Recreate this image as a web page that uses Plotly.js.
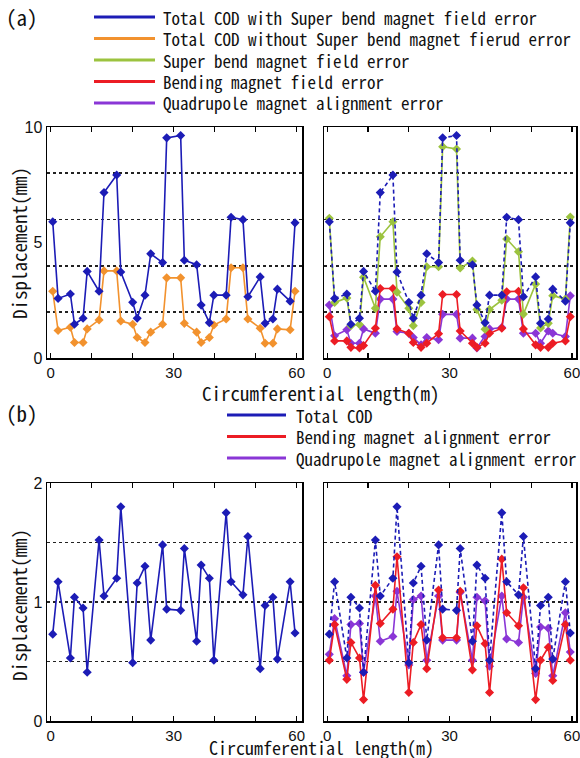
<!DOCTYPE html>
<html>
<head>
<meta charset="utf-8">
<script src="https://cdn.plot.ly/plotly-3.0.1.min.js"></script>
<style>html,body{margin:0;padding:0;background:#fff;}#chart{width:580px;height:758px;}</style>
</head>
<body>
<div id="chart"></div>
<script>
// ---- data (circumferential position in m, displacement in mm) ----
const xPos = [0.5, 1.8, 4.8, 5.8, 7.9, 8.9, 11.8, 13.0, 16.1, 17.1, 20.0, 21.1, 23.0, 24.4, 27.3, 28.3,
              31.7, 32.6, 35.6, 36.7, 38.7, 39.8, 42.8, 44.0, 46.9, 48.1, 51.1, 52.3, 54.2, 55.3, 58.4, 59.6];

// (a) field errors
const totalCodWithSB = [5.90, 2.58, 2.77, 1.46, 1.72, 3.75, 2.89, 7.16, 7.92, 3.72, 2.41, 1.72, 2.72, 4.51, 4.13, 9.53,
                        9.63, 4.23, 4.04, 2.29, 1.53, 2.72, 2.72, 6.09, 5.99, 2.65, 3.51, 1.50, 1.69, 2.98, 2.46, 5.85];
const totalCodWithoutSB = [2.89, 1.19, 1.33, 0.67, 0.67, 1.26, 1.65, 3.77, 3.77, 1.60, 1.46, 0.89, 0.67, 1.12, 1.46, 3.47,
                           3.47, 1.50, 1.12, 0.67, 0.89, 1.43, 1.69, 3.91, 3.91, 1.69, 1.29, 0.64, 0.64, 1.26, 1.22, 2.89];
const superBendField = [6.05, 2.40, 2.60, 1.40, 1.45, 3.50, 2.15, 5.25, 5.90, 2.85, 2.15, 1.40, 2.40, 3.95, 3.95, 9.15,
                        9.05, 3.90, 4.20, 2.10, 1.25, 2.10, 2.50, 5.15, 4.60, 1.90, 3.20, 1.30, 1.50, 2.70, 2.55, 6.10];
const bendingField = [1.79, 0.74, 0.74, 0.46, 0.43, 0.54, 1.29, 3.01, 3.01, 1.26, 1.07, 0.67, 0.46, 0.64, 1.05, 2.75,
                      2.75, 1.17, 0.64, 0.46, 0.64, 1.07, 1.29, 2.87, 2.89, 1.26, 0.57, 0.46, 0.46, 0.64, 0.74, 1.79];
const quadAlignA = [2.29, 0.96, 1.22, 0.64, 0.64, 1.26, 1.07, 2.55, 2.55, 1.15, 1.07, 0.89, 0.57, 0.89, 0.79, 1.89,
                    1.89, 0.86, 0.86, 0.43, 0.93, 1.26, 1.32, 2.55, 2.55, 1.07, 1.07, 0.64, 1.17, 1.07, 0.93, 2.69];

// (b) alignment errors
const totalCodB = [0.73, 1.17, 0.53, 1.04, 0.95, 0.41, 1.52, 1.05, 1.20, 1.80, 0.49, 1.16, 1.30, 0.68, 1.48, 0.94,
                   0.93, 1.45, 0.67, 1.31, 1.20, 0.51, 1.75, 1.17, 1.06, 1.55, 0.44, 0.97, 1.04, 0.52, 1.17, 0.74];
const bendingAlign = [0.51, 0.81, 0.35, 0.66, 0.53, 0.18, 1.14, 0.82, 0.94, 1.38, 0.24, 0.66, 0.81, 0.44, 1.10, 0.70,
                      0.70, 1.09, 0.43, 0.80, 0.65, 0.24, 1.36, 0.91, 0.80, 1.12, 0.18, 0.51, 0.62, 0.34, 0.81, 0.51];
const quadAlignB = [0.56, 0.86, 0.38, 0.81, 0.82, 0.41, 1.05, 0.67, 0.71, 1.09, 0.47, 1.02, 1.05, 0.51, 1.05, 0.68,
                    0.68, 1.08, 0.51, 1.04, 1.01, 0.46, 1.05, 0.69, 0.66, 1.04, 0.40, 0.79, 0.78, 0.38, 0.91, 0.58];

const xTickVals = [0, 30, 60];
const yTickValsA = [0, 5, 10];
const yTickValsB = [0, 1, 2];
const legendA = ["Total COD with Super bend magnet field error",
                 "Total COD without Super bend magnet fierud error",
                 "Super bend magnet field error",
                 "Bending magnet field error",
                 "Quadrupole magnet alignment error"];
const legendB = ["Total COD", "Bending magnet alignment error", "Quadrupole magnet alignment error"];
const xTitle = "Circumferential length(m)";
const yTitle = "Displacement(mm)";

// ---- styling ----
const W = 580, H = 758;
const BLUE = '#1c1cb6', ORANGE = '#f2922e', GREEN = '#9cc33f', RED = '#ec1c24', PURPLE = '#8a36d6';
const MONO = "'Noto Sans Mono CJK JP', 'Noto Sans CJK JP', 'DejaVu Sans Mono', monospace";
const SANS = "'Liberation Sans', Arial, sans-serif";
const px = v => v / W;
const py = v => 1 - v / H;

function tr(y, color, xa, ya, name, dash) {
  return {
    x: xPos, y: y, xaxis: xa, yaxis: ya, name: name, type: 'scatter', mode: 'lines+markers',
    line: {color: color, width: 1.6, dash: dash || 'solid'},
    marker: {symbol: 'diamond', size: 7, color: color},
    hoverinfo: 'x+y+name'
  };
}

const data = [
  tr(totalCodWithoutSB, ORANGE, 'x', 'y', legendA[1]),
  tr(totalCodWithSB, BLUE, 'x', 'y', legendA[0]),
  tr(quadAlignA, PURPLE, 'x2', 'y2', legendA[4]),
  tr(bendingField, RED, 'x2', 'y2', legendA[3]),
  tr(superBendField, GREEN, 'x2', 'y2', legendA[2]),
  tr(totalCodWithSB, BLUE, 'x2', 'y2', legendA[0], '4px,3px'),
  tr(totalCodB, BLUE, 'x3', 'y3', legendB[0]),
  tr(quadAlignB, PURPLE, 'x4', 'y4', legendB[2]),
  tr(bendingAlign, RED, 'x4', 'y4', legendB[1]),
  tr(totalCodB, BLUE, 'x4', 'y4', legendB[0], '4px,3px')
];

function xAxis(domain, range, anchor) {
  return {
    domain: domain, range: range, anchor: anchor,
    tickmode: 'array', tickvals: xTickVals, ticks: 'inside', ticklen: 5, tickcolor: '#000', tickwidth: 1.2,
    minor: {tickmode: 'linear', tick0: 0, dtick: 10, ticks: 'inside', ticklen: 5, tickcolor: '#000', tickwidth: 1.2},
    showline: true, linecolor: '#000', linewidth: 1.5, mirror: 'allticks',
    showgrid: false, zeroline: false, ticklabeloverflow: 'allow',
    tickfont: {family: SANS, size: 15, color: '#111'}
  };
}
function yAxis(domain, range, tickvals, gridvals, anchor, labels) {
  return {
    domain: domain, range: range, anchor: anchor,
    tickmode: 'array', tickvals: tickvals, ticks: '', showticklabels: labels,
    showline: true, linecolor: '#000', linewidth: 1.5, mirror: true,
    showgrid: false, zeroline: false, ticklabeloverflow: 'allow',
    minor: {tickmode: 'array', tickvals: gridvals, showgrid: true, griddash: 'dot',
            gridcolor: '#222', gridwidth: 1.8, ticks: ''},
    tickfont: {family: SANS, size: 16, color: '#111'}
  };
}

const dxL = [px(47), px(302)], dxR = [px(324), px(576)];
const dyA = [py(358), py(127)], dyB = [py(721), py(483)];
const rL = [-0.9, 61.3], rR = [-0.8, 61.0];

const shapes = [], annotations = [];
function legendBlock(labels, colors, x0, x1, xt, ys) {
  labels.forEach((t, i) => {
    shapes.push({type: 'line', xref: 'paper', yref: 'paper', x0: px(x0), x1: px(x1), y0: py(ys[i]), y1: py(ys[i]),
                 line: {color: colors[i], width: 3}});
    annotations.push({text: t, xref: 'paper', yref: 'paper', x: px(xt), y: py(ys[i]), xanchor: 'left', yanchor: 'middle',
                      showarrow: false, font: {family: MONO, size: 17, color: '#111'}});
  });
}
legendBlock(legendA, [BLUE, ORANGE, GREEN, RED, PURPLE], 94, 155, 161, [17, 38.5, 60, 81.5, 103]);
legendBlock(legendB, [BLUE, RED, PURPLE], 227, 286, 294, [415, 436.5, 458]);

function txt(t, x, y, size, angle) {
  annotations.push({text: t, xref: 'paper', yref: 'paper', x: px(x), y: py(y), xanchor: 'center', yanchor: 'middle',
                    showarrow: false, textangle: angle || 0, font: {family: MONO, size: size, color: '#111'}});
}
txt('(a)', 22, 17, 21);
txt('(b)', 22, 413, 21);
txt(xTitle, 321, 392, 19);
txt(xTitle, 321, 747, 18);
txt(yTitle, 18, 243, 19, -90);
txt(yTitle, 18, 605, 19, -90);

const layout = {
  width: W, height: H, margin: {l: 0, r: 0, t: 0, b: 0},
  paper_bgcolor: '#fff', plot_bgcolor: '#fff', showlegend: false,
  xaxis: xAxis(dxL, rL, 'y'),
  yaxis: yAxis(dyA, [0, 10], yTickValsA, [2, 4, 6, 8], 'x', true),
  xaxis2: xAxis(dxR, rR, 'y2'),
  yaxis2: yAxis(dyA, [0, 10], yTickValsA, [2, 4, 6, 8], 'x2', false),
  xaxis3: xAxis(dxL, rL, 'y3'),
  yaxis3: yAxis(dyB, [0, 2], yTickValsB, [0.5, 1, 1.5], 'x3', true),
  xaxis4: xAxis(dxR, rR, 'y4'),
  yaxis4: yAxis(dyB, [0, 2], yTickValsB, [0.5, 1, 1.5], 'x4', false),
  shapes: shapes, annotations: annotations
};

Plotly.newPlot('chart', data, layout, {displayModeBar: false, staticPlot: true});
</script>
</body>
</html>
